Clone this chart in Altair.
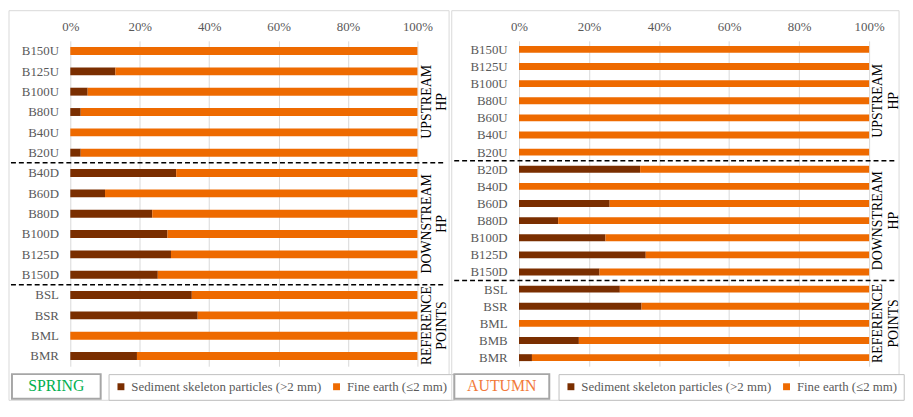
import json
import altair as alt
import pandas as pd

SKEL = "Sediment skeleton particles (>2 mm)"
FINE = "Fine earth (\u22642 mm)"
SERIES = [SKEL, FINE]
SERIES_COLORS = ["#7A2E00", "#EE6A00"]

spring_sites = ["B150U", "B125U", "B100U", "B80U", "B40U", "B20U",
                "B40D", "B60D", "B80D", "B100D", "B125D", "B150D",
                "BSL", "BSR", "BML", "BMR"]
spring_skeleton = [0, 13, 5, 3, 0, 3,
                   30.5, 10, 23.6, 28, 29, 25.2,
                   35, 36.7, 0, 19.2]
spring_fine = [100, 87, 95, 97, 100, 97,
               69.5, 90, 76.4, 72, 71, 74.8,
               65, 63.3, 100, 80.8]
spring_group_sizes = [6, 6, 4]

autumn_sites = ["B150U", "B125U", "B100U", "B80U", "B60U", "B40U", "B20U",
                "B20D", "B40D", "B60D", "B80D", "B100D", "B125D", "B150D",
                "BSL", "BSR", "BML", "BMB", "BMR"]
autumn_skeleton = [0, 0, 0, 0, 0, 0, 0,
                   34.6, 0, 25.9, 11.2, 24.7, 36.2, 23.0,
                   28.8, 35.0, 0, 17.1, 3.7]
autumn_fine = [100, 100, 100, 100, 100, 100, 100,
               65.4, 100, 74.1, 88.8, 75.3, 63.8, 77.0,
               71.2, 65.0, 100, 82.9, 96.3]
autumn_group_sizes = [7, 7, 5]

group_names = ["UPSTREAM\nHP", "DOWNSTREAM\nHP", "REFERENCE\nPOINTS"]

FONT = "Liberation Serif"
H = 329
BOX_Y1, BOX_Y2 = 337, 362
FRAME_Y1, FRAME_Y2 = -30.5, 363.5


def panel(sites, skel, fine, sizes, season, season_color, W, bar_size, g):
    n = len(sites)
    rows = []
    for i, s in enumerate(sites):
        rows.append({"site": s, "idx": i, "series": SKEL, "ord": 0, "value": skel[i]})
        rows.append({"site": s, "idx": i, "series": FINE, "ord": 1, "value": fine[i]})
    df = pd.DataFrame(rows)

    seps, centers = [], []
    start = 0
    for k, sz in enumerate(sizes):
        centers.append({"idx": start + (sz - 1) / 2, "label": group_names[k]})
        start += sz
        if k < len(sizes) - 1:
            seps.append({"idx": start - 0.5})

    yscale = alt.Scale(domain=[-0.5, n - 0.5], reverse=True, nice=False, zero=False, padding=0)
    label_expr = json.dumps(sites) + "[datum.value]"

    one = alt.Data(values=[{"k": 1}])

    frame = alt.Chart(one).mark_rect(fill="white", fillOpacity=0, stroke="#D9D9D9", strokeWidth=1).encode(
        x=alt.value(g["fx1"]), x2=alt.value(g["fx2"]), y=alt.value(FRAME_Y1), y2=alt.value(FRAME_Y2))

    bars = alt.Chart(df).mark_bar(orient="horizontal", size=bar_size).encode(
        x=alt.X("value:Q", stack="normalize",
                scale=alt.Scale(domain=[0, 1], nice=False, padding=0),
                axis=alt.Axis(orient="top", format="%", values=[0, 0.2, 0.4, 0.6, 0.8, 1.0],
                              title=None, ticks=False, domain=False, grid=True, labelFlush=False,
                              gridColor="#D9D9D9", gridWidth=1, labelFont=FONT,
                              labelFontSize=13, labelColor="#595959", labelPadding=7)),
        y=alt.Y("idx:Q", scale=yscale,
                axis=alt.Axis(values=list(range(n)), labelExpr=label_expr, title=None,
                              ticks=False, domain=False, grid=False, labelFont=FONT,
                              labelFontSize=13, labelColor="#595959", labelPadding=12,
                              labelOverlap=False, labelFlush=False)),
        color=alt.Color("series:N", scale=alt.Scale(domain=SERIES, range=SERIES_COLORS),
                        legend=alt.Legend(title=None, orient="none", legendX=g["lx"], legendY=BOX_Y1,
                                          direction="horizontal", strokeColor="#BFBFBF",
                                          fillColor="white", padding=6, symbolType="square",
                                          symbolSize=49, symbolStrokeWidth=0, labelFont=FONT,
                                          labelFontSize=13, labelColor="#595959",
                                          labelLimit=400, columnPadding=8, labelOffset=4)),
        order=alt.Order("ord:Q"),
    )

    sep = alt.Chart(pd.DataFrame(seps)).mark_rule(color="black", strokeWidth=1.5, strokeDash=[5, 3]).encode(
        y=alt.Y("idx:Q", scale=yscale, axis=None),
        x=alt.value(g["sx1"]), x2=alt.value(g["sx2"]))

    glabels = alt.Chart(pd.DataFrame(centers)).mark_text(
        angle=270, lineBreak="\n", lineHeight=g["glh"], font=FONT, fontSize=14, color="black",
        align="center", baseline="middle").encode(
        y=alt.Y("idx:Q", scale=yscale, axis=None),
        x=alt.value(g["glx"]), text="label:N")

    sbox = alt.Chart(one).mark_rect(fill="white", stroke="#A6A6A6", strokeWidth=2).encode(
        x=alt.value(g["bx1"]), x2=alt.value(g["bx2"]), y=alt.value(BOX_Y1), y2=alt.value(BOX_Y2))
    stext = alt.Chart(alt.Data(values=[{"t": season}])).mark_text(
        font=FONT, fontSize=16, color=season_color, align="center", baseline="middle").encode(
        x=alt.value((g["bx1"] + g["bx2"]) / 2), y=alt.value((BOX_Y1 + BOX_Y2) / 2), text="t:N")

    return alt.layer(frame, bars, sep, glabels, sbox, stext).resolve_axis(
        y="independent").properties(width=W, height=H)


left = panel(spring_sites, spring_skeleton, spring_fine, spring_group_sizes, "SPRING", "#00B050",
             351, 8, {"fx1": -62, "fx2": 383, "lx": 38.7, "sx1": -60, "sx2": 380,
                      "glx": 360.7, "glh": 15, "bx1": -59, "bx2": 30.7})
right = panel(autumn_sites, autumn_skeleton, autumn_fine, autumn_group_sizes, "AUTUMN", "#F27A3A",
              354, 7, {"fx1": -68, "fx2": 384.3, "lx": 40, "sx1": -65.5, "sx2": 382,
                       "glx": 363.3, "glh": 16, "bx1": -65.4, "bx2": 30.6})

chart = alt.hconcat(left, right, spacing=102.7, bounds="flush").resolve_scale(
    color="independent").properties(
    padding=0, background="white"
).configure(font=FONT).configure_view(strokeWidth=0)

chart.save("out.html", embed_options={"renderer": "svg", "actions": False})
